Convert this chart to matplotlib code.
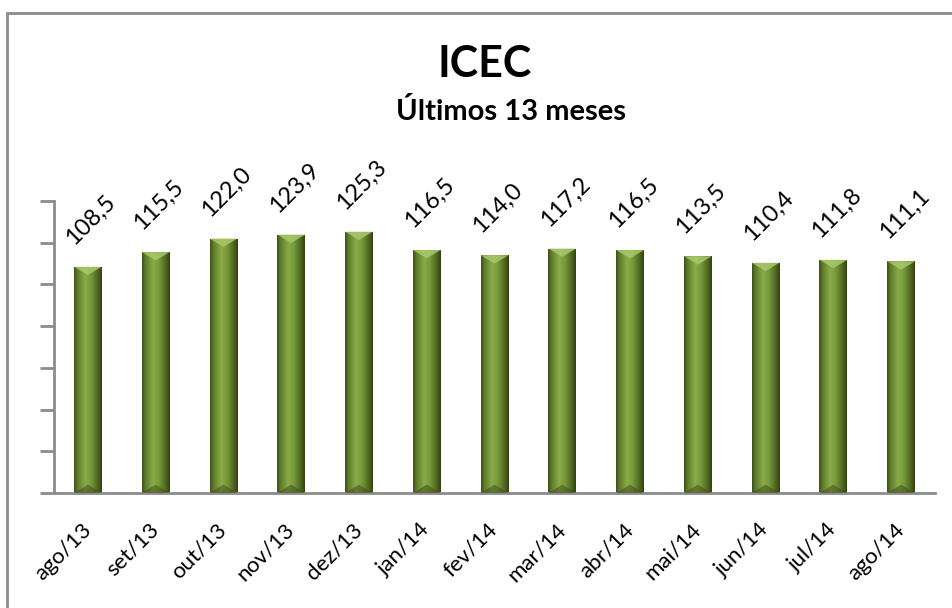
# plot.py
# ICEC - últimos 13 meses (colunas verdes com rótulos inclinados)

import numpy as np
import matplotlib
matplotlib.use("Agg")
import matplotlib.pyplot as plt
from matplotlib.colors import LinearSegmentedColormap
from matplotlib.patches import Polygon, Rectangle

plt.rcParams["font.family"] = ["Lato", "DejaVu Sans"]

# --- dados ---
meses = ["ago/13", "set/13", "out/13", "nov/13", "dez/13", "jan/14", "fev/14",
         "mar/14", "abr/14", "mai/14", "jun/14", "jul/14", "ago/14"]
valores = [108.5, 115.5, 122.0, 123.9, 125.3, 116.5, 114.0,
           117.2, 116.5, 113.5, 110.4, 111.8, 111.1]
titulo = "ICEC"
subtitulo = "Últimos 13 meses"


def rotulo(v):
    return f"{v:.1f}".replace(".", ",")


def main():
    fig = plt.figure(figsize=(9.53, 6.08), dpi=100)
    ax = fig.add_axes([54 / 953, 1 - 493 / 608, 881 / 953, 292 / 608])

    # moldura cinza (só aparecem os lados esquerdo e superior)
    fig.patches.append(Rectangle((6.5 / 953, -0.1), 1.2, 1 - 13.5 / 608 + 0.1,
                                 transform=fig.transFigure, fill=False,
                                 edgecolor="#8c8c8c", linewidth=2))

    # gradiente horizontal das colunas
    cmap = LinearSegmentedColormap.from_list(
        "verde", [(0.0, "#3e4f19"), (0.12, "#5e7a2a"), (0.4, "#8aab48"),
                  (0.6, "#789a3a"), (0.85, "#4f6622"), (1.0, "#33420f")])
    grad = np.linspace(0, 1, 256).reshape(1, -1)

    largura = 0.41
    x = np.arange(len(meses))
    barras = ax.bar(x, valores, width=largura, color="none", edgecolor="none", zorder=2)

    d = 4.0  # altura do chanfro em unidades de dados
    for i, (b, v) in enumerate(zip(barras, valores)):
        x0 = i - largura / 2
        x1 = i + largura / 2
        im = ax.imshow(grad, extent=(x0, x1, 0, v), cmap=cmap, aspect="auto",
                       zorder=2, interpolation="bilinear")
        im.set_clip_path(b)
        # chanfro superior (mais claro) e inferior (mais escuro)
        ax.add_patch(Polygon([(x0, v), (x1, v), (i, v - d)], closed=True,
                             facecolor="#a9c76c", edgecolor="none", alpha=0.85, zorder=3))
        ax.add_patch(Polygon([(x0, 0), (x1, 0), (i, d)], closed=True,
                             facecolor="#3a4a14", edgecolor="none", alpha=0.5, zorder=3))
        ax.annotate(rotulo(v), xy=(i, v), xytext=(3, 47), textcoords="offset pixels",
                    ha="center", va="center", rotation=45, fontsize=17, color="black")

    ax.set_xlim(-0.5, len(meses) - 0.5)
    ax.set_ylim(0, 140)
    ax.set_yticks(np.arange(0, 141, 20))
    ax.set_yticklabels([])
    ax.set_xticks(x)
    ax.set_xticklabels(meses, rotation=45, ha="right", va="center",
                       rotation_mode="anchor", fontsize=16)
    ax.tick_params(axis="x", length=0, pad=24)
    ax.tick_params(axis="y", length=10, width=2, color="#8c8c8c", direction="out")

    for lado in ["top", "right"]:
        ax.spines[lado].set_visible(False)
    for lado in ["left", "bottom"]:
        ax.spines[lado].set_color("#8c8c8c")
        ax.spines[lado].set_linewidth(2)

    fig.text(485 / 953, 1 - 64 / 608, titulo, ha="center", va="center",
             fontsize=31, fontweight="bold")
    fig.text(511 / 953, 1 - 112 / 608, subtitulo, ha="center", va="center",
             fontsize=21, fontweight="bold")

    fig.savefig("out.png", dpi=100)
    plt.close(fig)


if __name__ == "__main__":
    main()
